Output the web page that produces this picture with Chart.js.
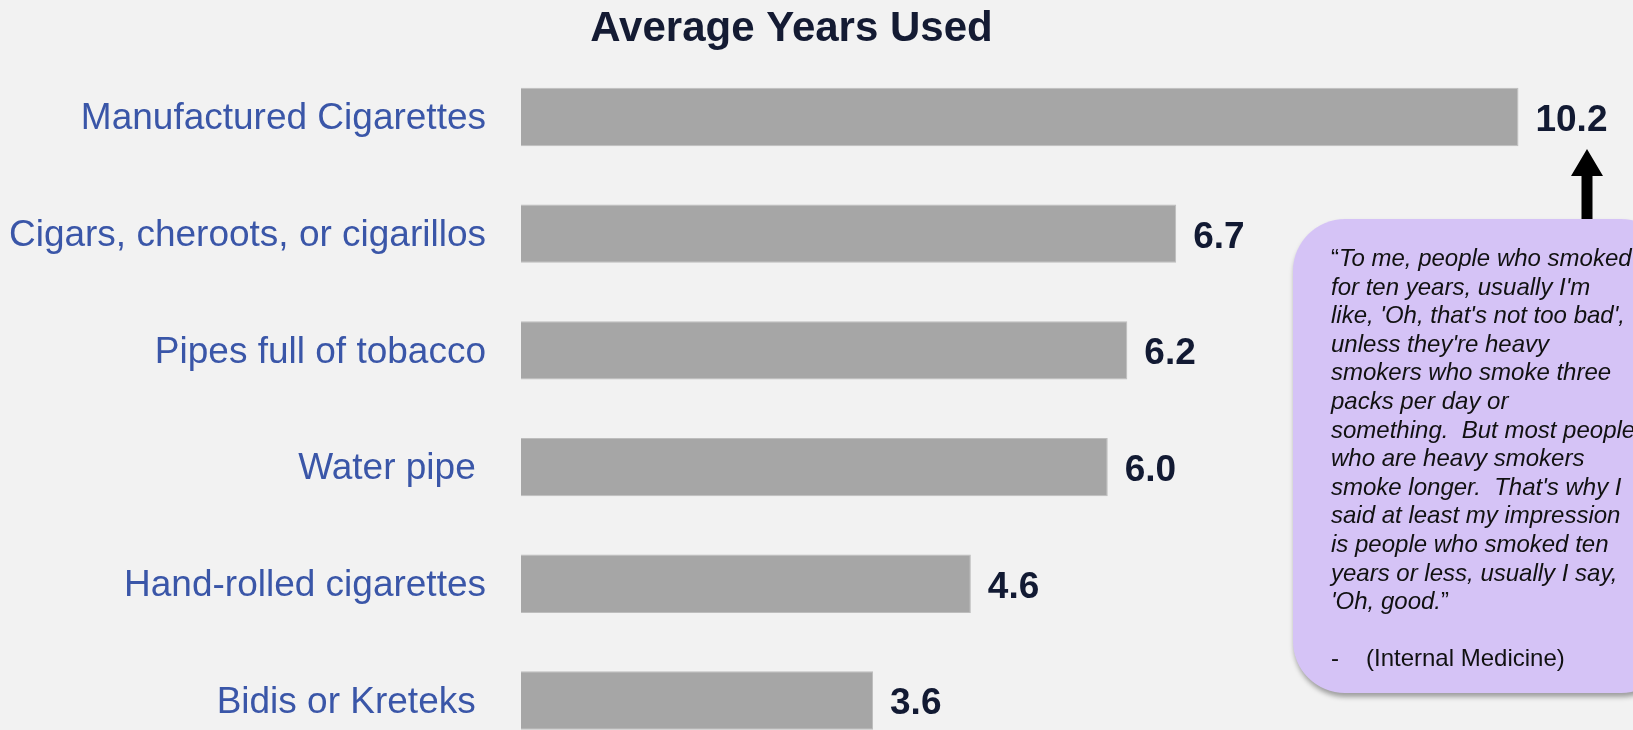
<!DOCTYPE html>
<html>
<head>
<meta charset="utf-8">
<script src="https://cdn.jsdelivr.net/npm/chart.js@4.4.1/dist/chart.umd.min.js"></script>
<style>
  html, body { margin: 0; padding: 0; width: 1633px; height: 730px; overflow: hidden; background: #F2F2F2; }
  #wrap { position: absolute; left: 0; top: 0; width: 1633px; height: 816px; }
  #callout {
    position: absolute; left: 1293px; top: 219px; width: 380px; height: 474px;
    background: #D5C3F6; border-radius: 52px;
    box-shadow: 1px 4px 5px rgba(0,0,0,0.35);
    box-sizing: border-box; padding: 25px 0 0 38px;
    font-family: "Liberation Sans", Arial, sans-serif; font-size: 24px; line-height: 28.6px;
    color: #111; white-space: nowrap;
  }
  #callout .q { font-style: italic; }
  #callout .up { font-style: normal; }
  #callout .dash { display: inline-block; width: 35px; }
  #arrow { position: absolute; left: 1570px; top: 148px; }
</style>
</head>
<body>
<div id="wrap"><canvas id="c" width="1633" height="816"></canvas></div>
<svg id="arrow" width="34" height="74" viewBox="0 0 34 74">
  <polygon points="17,1 33,28 22.5,28 22.5,73 11.5,73 11.5,28 1,28" fill="#000"/>
</svg>
<div id="callout"><span class="up">“</span><span class="q">To me, people who smoked<br>for ten years, usually I'm<br>like, 'Oh, that's not too bad',<br>unless they're heavy<br>smokers who smoke three<br>packs per day or<br>something.&nbsp; But most people<br>who are heavy smokers<br>smoke longer.&nbsp; That's why I<br>said at least my impression<br>is people who smoked ten<br>years or less, usually I say,<br>'Oh, good.</span><span class="up">”</span><br><br><span class="dash">-</span>(Internal Medicine)</div>
<script>
const title = "Average Years Used";
const categories = [
  "Manufactured Cigarettes",
  "Cigars, cheroots, or cigarillos",
  "Pipes full of tobacco",
  "Water pipe ",
  "Hand-rolled cigarettes",
  "Bidis or Kreteks "
];
const averageYears = [10.2, 6.7, 6.2, 6.0, 4.6, 3.6];
const valueLabels = ["10.2", "6.7", "6.2", "6.0", "4.6", "3.6"];

const FONT = '"Liberation Sans", Arial, sans-serif';

const valueLabelPlugin = {
  id: 'valueLabels',
  afterDatasetsDraw(chart) {
    const ctx = chart.ctx;
    const meta = chart.getDatasetMeta(0);
    ctx.save();
    ctx.font = 'bold 37px ' + FONT;
    ctx.fillStyle = '#121A33';
    ctx.textAlign = 'left';
    ctx.textBaseline = 'alphabetic';
    meta.data.forEach((bar, i) => {
      ctx.fillText(valueLabels[i], bar.x + 17, bar.y + 14);
    });
    ctx.restore();
  }
};

new Chart(document.getElementById('c'), {
  type: 'bar',
  data: {
    labels: categories,
    datasets: [{
      data: averageYears,
      backgroundColor: '#A6A6A6',
      borderColor: '#BDBDBD',
      borderWidth: 1,
      barPercentage: 0.5,
      categoryPercentage: 1.0
    }]
  },
  options: {
    indexAxis: 'y',
    responsive: false,
    animation: false,
    layout: { padding: { left: 0, right: 50, top: 0, bottom: 0 } },
    plugins: {
      legend: { display: false },
      tooltip: { enabled: false },
      title: {
        display: true,
        text: title,
        color: '#141B33',
        font: { family: FONT, size: 42, weight: 'bold', lineHeight: 1.08 },
        padding: { top: 7, bottom: 6.3 }
      }
    },
    scales: {
      x: { display: false, min: 0, max: 10.86 },
      y: {
        grid: { display: false, drawTicks: false, tickLength: 0 },
        border: { display: false },
        ticks: {
          color: '#3A56A8',
          font: { family: FONT, size: 37 },
          padding: 35,
          labelOffset: 2
        },
        afterFit(scale) { scale.width = 521; }
      }
    }
  },
  plugins: [valueLabelPlugin]
});
</script>
</body>
</html>
